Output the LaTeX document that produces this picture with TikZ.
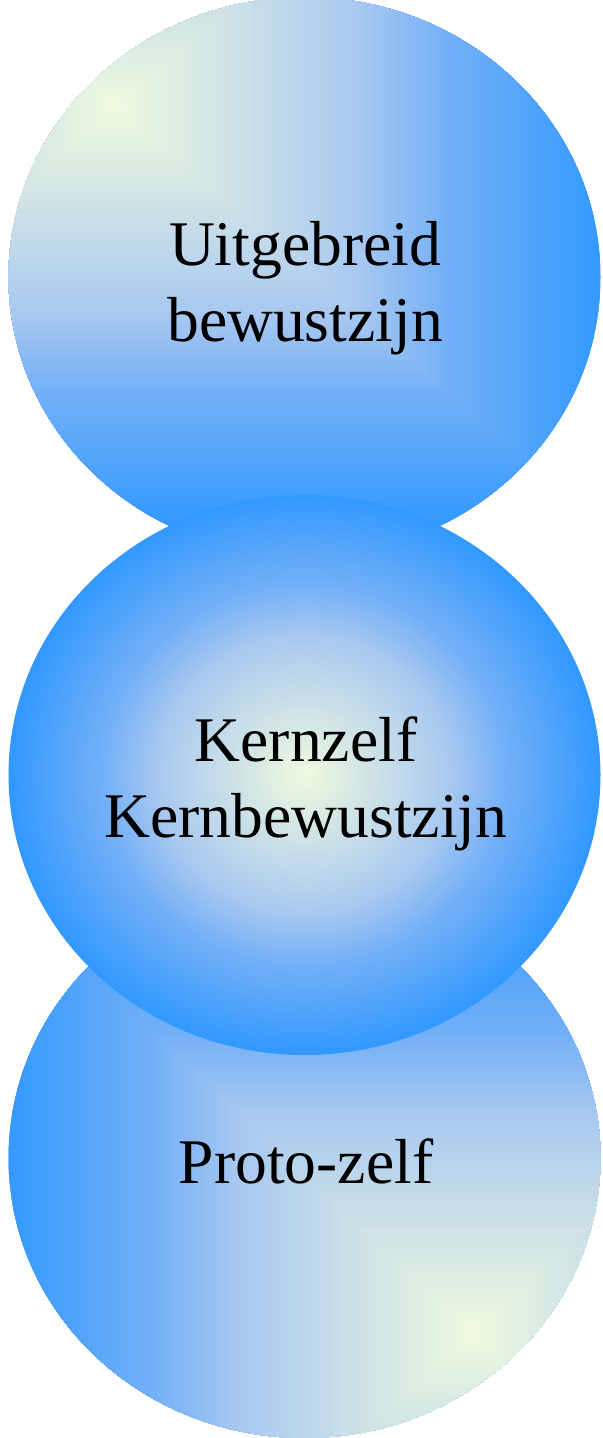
\documentclass[tikz,border=0pt]{standalone}
\usepackage{fontspec}
\setmainfont{Liberation Serif}
\usepackage{xcolor}
\usepackage{tikz}
\definecolor{pale}{RGB}{240,250,222}
\definecolor{midblue}{RGB}{168,200,240}
\definecolor{skyblue}{RGB}{116,176,247}
\definecolor{deepblue}{RGB}{51,153,255}
% colour of step #1 (of 100), pale at 1, deep blue at 100
\newcommand{\bubblecolor}[1]{%
  \ifnum#1>68 \pgfmathsetmacro\p{(#1-68)*100/32}\colorlet{bc}{deepblue!\p!skyblue}%
  \else\ifnum#1>50 \pgfmathsetmacro\p{(#1-50)*100/18}\colorlet{bc}{skyblue!\p!midblue}%
  \else\pgfmathsetmacro\p{#1*2}\colorlet{bc}{midblue!\p!pale}\fi\fi}

\begin{document}
\begin{tikzpicture}[x=0.5pt,y=-0.5pt,every node/.style={align=center,inner sep=0,font=\fontsize{31.8}{38}\selectfont}]
\useasboundingbox (0,0) rectangle (602,1438);
% top bubble, light from the upper left
\begin{scope}
\clip (304.5,277) ellipse (296 and 280);
\foreach \i in {100,...,1}{\bubblecolor{\i}
  \fill[bc] (115-4.9*\i,107-4.2*\i) rectangle (115+4.9*\i,107+4.2*\i);}
\end{scope}
% bottom bubble, light from the lower right
\begin{scope}
\clip (304.5,1158) ellipse (296 and 280);
\foreach \i in {100,...,1}{\bubblecolor{\i}
  \fill[bc] (473-4.7*\i,1333-4.4*\i) rectangle (473+4.7*\i,1333+4.4*\i);}
\end{scope}
% middle bubble, light in the centre
\foreach \i in {100,...,1}{\bubblecolor{\i}
  \fill[bc] (304.5,775) ellipse ({2.96*\i} and {2.8*\i});}
\node (uitgebreid) at (305,288) {Uitgebreid\\bewustzijn};
\node (kernzelf) at (306,783.5) {Kernzelf\\Kernbewustzijn};
\node (protozelf) at (306,1161.5) {Proto-zelf};
\end{tikzpicture}
\end{document}
